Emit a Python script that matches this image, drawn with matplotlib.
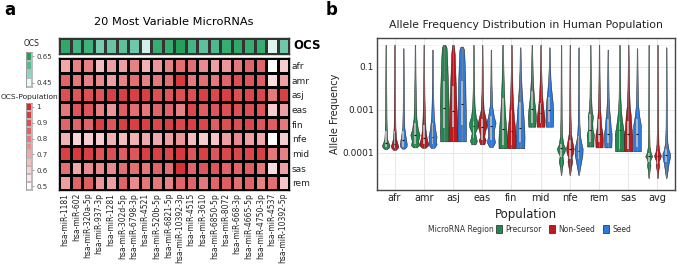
import matplotlib
matplotlib.use("Agg")
import matplotlib.pyplot as plt
from matplotlib.colors import LinearSegmentedColormap
from matplotlib.patches import Patch
import numpy as np

W, H = 677, 266

# ---------------- panel a data ----------------
MIRNAS = ["hsa-miR-1181", "hsa-miR-602", "hsa-miR-320a-5p", "hsa-miR-937-3p",
          "hsa-miR-1281", "hsa-miR-302d-5p", "hsa-miR-6798-3p", "hsa-miR-4521",
          "hsa-miR-520b-5p", "hsa-miR-6821-5p", "hsa-miR-10392-3p", "hsa-miR-4515",
          "hsa-miR-3610", "hsa-miR-6850-5p", "hsa-miR-8072", "hsa-miR-668-3p",
          "hsa-miR-4665-5p", "hsa-miR-4750-3p", "hsa-miR-4537", "hsa-miR-10392-5p"]
POP_ROWS = ["afr", "amr", "asj", "eas", "fin", "nfe", "mid", "sas", "rem"]

OCS = [0.63, 0.60, 0.61, 0.54, 0.56, 0.57, 0.55, 0.47, 0.62, 0.62,
       0.65, 0.60, 0.57, 0.59, 0.62, 0.63, 0.62, 0.62, 0.46, 0.55]

OCS_POP = [
    [0.70, 0.78, 0.78, 0.66, 0.72, 0.72, 0.78, 0.68, 0.74, 0.78, 0.82, 0.82, 0.76, 0.72, 0.74, 0.80, 0.84, 0.84, 0.50, 0.62],
    [0.84, 0.80, 0.78, 0.76, 0.72, 0.78, 0.82, 0.78, 0.80, 0.82, 0.96, 0.80, 0.82, 0.80, 0.84, 0.90, 0.88, 0.86, 0.58, 0.72],
    [0.90, 0.88, 0.90, 0.88, 0.94, 0.94, 0.94, 0.94, 0.90, 0.88, 0.90, 0.90, 0.94, 0.92, 0.94, 0.90, 0.92, 0.92, 0.80, 0.94],
    [0.80, 0.88, 0.88, 0.78, 0.74, 0.86, 0.82, 0.80, 0.84, 0.84, 0.78, 0.92, 0.86, 0.88, 0.90, 0.90, 0.90, 0.88, 0.62, 0.72],
    [0.84, 0.84, 0.84, 0.94, 0.88, 0.94, 0.94, 0.94, 0.92, 0.94, 0.92, 0.94, 0.92, 0.86, 0.90, 0.90, 0.92, 0.88, 0.86, 0.80],
    [0.68, 0.60, 0.62, 0.62, 0.68, 0.66, 0.68, 0.70, 0.70, 0.72, 0.74, 0.66, 0.62, 0.64, 0.72, 0.76, 0.72, 0.70, 0.50, 0.62],
    [0.94, 0.96, 0.94, 0.88, 0.90, 0.86, 0.88, 0.94, 0.94, 0.92, 0.96, 0.88, 0.94, 0.88, 0.92, 0.92, 0.92, 0.94, 0.80, 0.78],
    [0.82, 0.70, 0.76, 0.76, 0.76, 0.82, 0.82, 0.80, 0.84, 0.82, 0.98, 0.84, 0.88, 0.88, 0.84, 0.84, 0.86, 0.80, 0.58, 0.72],
    [0.72, 0.84, 0.86, 0.74, 0.72, 0.84, 0.76, 0.80, 0.80, 0.78, 0.84, 0.84, 0.80, 0.84, 0.86, 0.82, 0.84, 0.78, 0.82, 0.64],
]

OCS_LEGEND = [0.65, 0.5833, 0.5167, 0.45]
POP_LEGEND = [1.0, 0.95, 0.9, 0.85, 0.8, 0.75, 0.7, 0.65, 0.6, 0.55, 0.5]
POP_LEGEND_LABELS = ["1", "", "0.9", "", "0.8", "", "0.7", "", "0.6", "", "0.5"]

# ---------------- panel b data ----------------
# y axis is drawn in tick-index units: 0 -> 0.0001, 1 -> 0.001, 2 -> 0.1
POPS = ["afr", "amr", "asj", "eas", "fin", "mid", "nfe", "rem", "sas", "avg"]
REGIONS = ["Precursor", "Non-Seed", "Seed"]
REGION_COLORS = ["#23874f", "#bd1a1f", "#2f7bdc"]
YTICK_POS = [0, 1, 2]
YTICK_LABELS = ["0.0001", "0.001", "0.1"]

# violin outlines: (y, half width) knots, per population P / N / S
PROFILES = {
    "afr": [
        [(0.09, 0.04), (0.13, 0.11), (0.18, 0.13), (0.24, 0.09), (0.32, 0.05), (0.5, 0.035), (0.8, 0.025), (1.5, 0.018), (2.51, 0.01)],
        [(0.07, 0.04), (0.12, 0.11), (0.16, 0.13), (0.24, 0.09), (0.35, 0.05), (0.6, 0.03), (1.0, 0.022), (1.6, 0.016), (2.51, 0.01)],
        [(0.10, 0.04), (0.15, 0.11), (0.20, 0.12), (0.30, 0.10), (0.42, 0.07), (0.6, 0.035), (1.0, 0.022), (1.6, 0.016), (2.43, 0.01)],
    ],
    "amr": [
        [(0.13, 0.06), (0.18, 0.14), (0.28, 0.11), (0.42, 0.16), (0.55, 0.10), (0.8, 0.05), (1.2, 0.03), (1.8, 0.018), (2.51, 0.01)],
        [(0.12, 0.06), (0.17, 0.14), (0.22, 0.15), (0.35, 0.10), (0.55, 0.06), (0.85, 0.04), (1.3, 0.025), (1.8, 0.016), (2.51, 0.01)],
        [(0.12, 0.06), (0.20, 0.14), (0.28, 0.12), (0.38, 0.14), (0.55, 0.09), (0.85, 0.045), (1.3, 0.025), (1.8, 0.016), (2.40, 0.01)],
    ],
    "asj": [
        [(0.27, 0.14), (0.5, 0.15), (0.8, 0.14), (1.1, 0.15), (1.4, 0.14), (1.8, 0.12), (2.2, 0.10), (2.45, 0.08), (2.51, 0.04)],
        [(0.27, 0.15), (0.5, 0.15), (0.8, 0.14), (1.1, 0.12), (1.5, 0.10), (1.9, 0.08), (2.3, 0.06), (2.51, 0.03)],
        [(0.27, 0.14), (0.55, 0.15), (0.9, 0.14), (1.3, 0.13), (1.7, 0.12), (2.1, 0.10), (2.4, 0.08), (2.47, 0.04)],
    ],
    "eas": [
        [(0.20, 0.07), (0.28, 0.12), (0.35, 0.09), (0.47, 0.06), (0.6, 0.14), (0.7, 0.15), (0.85, 0.08), (1.1, 0.04), (1.6, 0.02), (2.51, 0.01)],
        [(0.20, 0.07), (0.30, 0.12), (0.38, 0.07), (0.5, 0.10), (0.65, 0.16), (0.8, 0.12), (1.0, 0.05), (1.4, 0.025), (2.51, 0.01)],
        [(0.14, 0.06), (0.25, 0.14), (0.40, 0.10), (0.55, 0.11), (0.7, 0.16), (0.85, 0.10), (1.1, 0.04), (1.6, 0.02), (2.40, 0.01)],
    ],
    "fin": [
        [(0.11, 0.14), (0.3, 0.145), (0.5, 0.13), (0.77, 0.10), (1.0, 0.075), (1.3, 0.055), (1.7, 0.035), (2.1, 0.022), (2.51, 0.012)],
        [(0.11, 0.14), (0.3, 0.15), (0.55, 0.13), (0.8, 0.09), (1.0, 0.07), (1.4, 0.04), (1.9, 0.022), (2.51, 0.012)],
        [(0.11, 0.14), (0.35, 0.15), (0.6, 0.14), (0.9, 0.11), (1.2, 0.08), (1.5, 0.05), (1.9, 0.025), (2.45, 0.012)],
    ],
    "mid": [
        [(0.61, 0.12), (0.75, 0.13), (0.84, 0.14), (1.0, 0.12), (1.2, 0.085), (1.47, 0.055), (1.8, 0.03), (2.2, 0.018), (2.51, 0.01)],
        [(0.61, 0.13), (0.75, 0.14), (0.9, 0.12), (1.05, 0.09), (1.3, 0.055), (1.6, 0.035), (2.0, 0.02), (2.51, 0.01)],
        [(0.61, 0.12), (0.8, 0.13), (1.0, 0.13), (1.2, 0.11), (1.45, 0.07), (1.7, 0.04), (2.0, 0.022), (2.45, 0.01)],
    ],
    "nfe": [
        [(-0.51, 0.01), (-0.35, 0.03), (-0.2, 0.08), (-0.12, 0.06), (-0.06, 0.05), (0.03, 0.12), (0.11, 0.14), (0.2, 0.08), (0.4, 0.035), (0.8, 0.022), (1.5, 0.016), (2.51, 0.01)],
        [(-0.51, 0.01), (-0.35, 0.04), (-0.2, 0.08), (-0.1, 0.06), (0.0, 0.11), (0.11, 0.13), (0.25, 0.09), (0.45, 0.04), (0.9, 0.022), (1.6, 0.016), (2.51, 0.01)],
        [(-0.51, 0.01), (-0.35, 0.05), (-0.2, 0.09), (-0.05, 0.13), (0.1, 0.14), (0.25, 0.09), (0.4, 0.05), (0.7, 0.028), (1.3, 0.018), (2.45, 0.01)],
    ],
    "rem": [
        [(0.15, 0.11), (0.3, 0.11), (0.42, 0.125), (0.55, 0.08), (0.7, 0.07), (0.84, 0.09), (1.0, 0.05), (1.3, 0.028), (1.8, 0.018), (2.51, 0.01)],
        [(0.13, 0.12), (0.3, 0.13), (0.45, 0.12), (0.6, 0.08), (0.8, 0.06), (1.0, 0.04), (1.4, 0.025), (1.9, 0.016), (2.51, 0.01)],
        [(0.13, 0.12), (0.3, 0.13), (0.45, 0.13), (0.6, 0.10), (0.8, 0.08), (1.0, 0.05), (1.3, 0.028), (1.8, 0.018), (2.40, 0.01)],
    ],
    "sas": [
        [(0.04, 0.15), (0.25, 0.16), (0.45, 0.16), (0.6, 0.12), (0.8, 0.08), (1.0, 0.05), (1.3, 0.03), (1.8, 0.02), (2.51, 0.01)],
        [(0.04, 0.14), (0.2, 0.14), (0.4, 0.14), (0.6, 0.11), (0.85, 0.09), (1.1, 0.05), (1.5, 0.028), (2.0, 0.018), (2.51, 0.01)],
        [(0.04, 0.13), (0.2, 0.13), (0.45, 0.13), (0.65, 0.13), (0.85, 0.08), (1.1, 0.04), (1.5, 0.025), (2.0, 0.016), (2.43, 0.01)],
    ],
    "avg": [
        [(-0.58, 0.01), (-0.4, 0.03), (-0.29, 0.06), (-0.2, 0.04), (-0.12, 0.08), (-0.08, 0.12), (0.0, 0.07), (0.15, 0.03), (0.5, 0.02), (1.2, 0.015), (2.51, 0.01)],
        [(-0.58, 0.01), (-0.4, 0.03), (-0.29, 0.06), (-0.2, 0.04), (-0.12, 0.09), (-0.06, 0.12), (0.02, 0.07), (0.2, 0.035), (0.6, 0.02), (1.3, 0.015), (2.51, 0.01)],
        [(-0.58, 0.01), (-0.4, 0.05), (-0.25, 0.08), (-0.1, 0.13), (-0.02, 0.13), (0.08, 0.08), (0.25, 0.04), (0.6, 0.022), (1.3, 0.016), (2.45, 0.01)],
    ],
}

# inner boxplot (q1, median, q3) per population P / N / S
BOXES = {
    "afr": [(0.15, 0.22, 0.50), (0.12, 0.20, 0.50), (0.15, 0.30, 0.50)],
    "amr": [(0.20, 0.42, 0.70), (0.20, 0.35, 0.65), (0.20, 0.38, 0.70)],
    "asj": [(0.57, 1.04, 1.68), (0.60, 0.98, 1.55), (0.64, 1.13, 1.68)],
    "eas": [(0.35, 0.62, 0.75), (0.30, 0.60, 0.80), (0.30, 0.63, 0.85)],
    "fin": [(0.18, 0.56, 1.27), (0.18, 0.51, 0.99), (0.25, 0.57, 1.18)],
    "mid": [(0.69, 1.02, 1.43), (0.69, 0.92, 1.15), (0.72, 1.00, 1.30)],
    "nfe": [(-0.10, 0.11, 0.20), (-0.15, 0.10, 0.30), (-0.15, 0.05, 0.40)],
    "rem": [(0.25, 0.53, 0.90), (0.25, 0.45, 0.80), (0.22, 0.43, 0.80)],
    "sas": [(0.10, 0.53, 0.75), (0.10, 0.45, 0.75), (0.15, 0.45, 0.80)],
    "avg": [(-0.20, -0.08, 0.00), (-0.25, -0.06, 0.05), (-0.20, -0.05, 0.10)],
}

plt.rcParams["font.family"] = "DejaVu Sans"

fig = plt.figure(figsize=(W / 100, H / 100), dpi=100)


def fax(x0, y0, x1, y1):
    """axes from pixel box (top-left origin)"""
    return fig.add_axes([x0 / W, 1 - y1 / H, (x1 - x0) / W, (y1 - y0) / H])


green_cmap = LinearSegmentedColormap.from_list("g", ["#eef9f8", "#8dd5c2", "#52bc92", "#23a059"])
red_cmap = LinearSegmentedColormap.from_list("r", ["#ffffff", "#f2b9bb", "#e2686b", "#d42a2e"])

# ---------------- panel a ----------------
fig.text(4 / W, 1 - 10 / H, "a", fontsize=12, weight="bold", va="center")
fig.text(174 / W, 1 - 22 / H, "20 Most Variable MicroRNAs", fontsize=8.2, ha="center", va="center")

ax_ocs = fax(59, 37.5, 289, 54)
ax_ocs.pcolormesh(np.arange(21), np.arange(2), np.array([OCS]), cmap=green_cmap,
                  vmin=0.45, vmax=0.65, edgecolors="#333333", linewidth=0.9)
ax_ocs.set_xlim(0, 20)
ax_ocs.set_ylim(0, 1)
ax_ocs.set_xticks([])
ax_ocs.set_yticks([])
for s in ax_ocs.spines.values():
    s.set_linewidth(1.0)
    s.set_color("#333333")
fig.text(293 / W, 1 - 46 / H, "OCS", fontsize=8.5, weight="bold", va="center")

ax_hm = fax(59, 58, 289, 190)
ax_hm.pcolormesh(np.arange(21), np.arange(10), np.array(OCS_POP), cmap=red_cmap,
                 vmin=0.5, vmax=1.0, edgecolors="black", linewidth=0.9)
ax_hm.set_xlim(0, 20)
ax_hm.set_ylim(9, 0)
ax_hm.set_xticks(np.arange(20) + 0.5)
ax_hm.set_xticklabels(MIRNAS, rotation=90, fontsize=5.5, color="#222222")
ax_hm.yaxis.tick_right()
ax_hm.set_yticks(np.arange(9) + 0.5)
ax_hm.set_yticklabels(POP_ROWS, fontsize=6.5, color="#222222")
ax_hm.tick_params(length=0, pad=2)
for s in ax_hm.spines.values():
    s.set_linewidth(1.0)

# legends of panel a
fig.text(32 / W, 1 - 43 / H, "OCS", fontsize=5.5, ha="center", va="center", color="#222222")
ax_l1 = fax(26, 52, 32, 87)
ax_l1.pcolormesh(np.array([[v] for v in OCS_LEGEND]), cmap=green_cmap, vmin=0.45, vmax=0.65,
                 edgecolors="#bbbbbb", linewidth=0.3)
ax_l1.set_ylim(len(OCS_LEGEND), 0)
ax_l1.set_xticks([])
ax_l1.yaxis.tick_right()
ax_l1.set_yticks([0.5, 3.5])
ax_l1.set_yticklabels(["0.65", "0.45"], fontsize=5, color="#333333")
ax_l1.tick_params(length=1.5, width=0.4, pad=1.5, colors="#666666", labelcolor="#333333")
for s in ax_l1.spines.values():
    s.set_linewidth(0.4)
    s.set_color("#888888")

fig.text(1 / W, 1 - 97 / H, "OCS-Population", fontsize=5.4, ha="left", va="center", color="#222222")
ax_l2 = fax(26, 103, 32, 190)
ax_l2.pcolormesh(np.array([[v] for v in POP_LEGEND]), cmap=red_cmap, vmin=0.5, vmax=1.0,
                 edgecolors="#bbbbbb", linewidth=0.3)
ax_l2.set_ylim(len(POP_LEGEND), 0)
ax_l2.set_xticks([])
ax_l2.yaxis.tick_right()
ax_l2.set_yticks([i + 0.5 for i, l in enumerate(POP_LEGEND_LABELS) if l])
ax_l2.set_yticklabels([l for l in POP_LEGEND_LABELS if l], fontsize=5, color="#333333")
ax_l2.tick_params(length=1.5, width=0.4, pad=1.5, colors="#666666", labelcolor="#333333")
for s in ax_l2.spines.values():
    s.set_linewidth(0.4)
    s.set_color("#888888")

# ---------------- panel b ----------------
fig.text(326 / W, 1 - 10 / H, "b", fontsize=12, weight="bold", va="center")

ax = fax(377, 38, 675, 190)
ax.set_facecolor("white")
ax.set_xlim(0.4, 10.6)
ax.set_ylim(-0.86, 2.67)
ax.set_yticks(YTICK_POS)
ax.set_yticklabels(YTICK_LABELS, fontsize=6.5, color="#222222")
ax.set_yticks([-0.5, 0.5, 1.5, 2.5], minor=True)
ax.set_xticks(np.arange(1, 11))
ax.set_xticklabels(POPS, fontsize=7, color="#222222")
ax.tick_params(which="both", length=0, pad=2)
ax.grid(True, which="major", color="#e3e3e3", linewidth=0.6)
ax.grid(True, which="minor", axis="y", color="#efefef", linewidth=0.4)
ax.set_axisbelow(True)
for s in ax.spines.values():
    s.set_color("#444444")
    s.set_linewidth(1.0)

offsets = [-0.3, 0.0, 0.3]
for gi, pop in enumerate(POPS):
    for ri in range(3):
        knots = PROFILES[pop][ri]
        ys = [k[0] for k in knots]
        hw = [k[1] for k in knots]
        pos = gi + 1 + offsets[ri]
        st = {"coords": np.array(ys), "vals": np.array(hw), "mean": np.mean(ys),
              "median": BOXES[pop][ri][1], "min": ys[0], "max": ys[-1]}
        parts = ax.violin([st], positions=[pos], widths=[2 * max(hw)],
                          showextrema=False, showmeans=False, showmedians=False)
        for b in parts["bodies"]:
            b.set_facecolor(REGION_COLORS[ri])
            b.set_edgecolor("#1a1a1a")
            b.set_linewidth(0.35)
            b.set_alpha(1)
            b.set_zorder(2)
        q1, med, q3 = BOXES[pop][ri]
        ax.bxp([{"q1": q1, "med": med, "q3": q3, "whislo": ys[0], "whishi": ys[-1]}],
               positions=[pos], widths=0.06, showfliers=False, showcaps=False,
               patch_artist=True,
               boxprops=dict(facecolor="#b5b5b5", edgecolor="none"),
               medianprops=dict(color="#111111", linewidth=0.8),
               whiskerprops=dict(color="#888888", linewidth=0.4),
               manage_ticks=False, zorder=3)

ax.set_title("Allele Frequency Distribution in Human Population", fontsize=7.8, pad=7, color="#222222")
ax.set_xlabel("Population", fontsize=8.5, labelpad=4, color="#222222")
fig.text(335 / W, 1 - 114 / H, "Allele Frequency", fontsize=7, rotation=90,
         ha="center", va="center", color="#222222")

fig.text(428 / W, 1 - 229 / H, "MicroRNA Region", fontsize=5.5, va="center", color="#333333")
handles = [Patch(facecolor=c, edgecolor="#222222", linewidth=0.5) for c in REGION_COLORS]
fig.legend(handles, REGIONS, loc="center left", bbox_to_anchor=(496 / W, 1 - 229 / H),
           ncol=3, frameon=False, fontsize=5.5, handlelength=0.8, handleheight=1.2,
           handletextpad=0.4, columnspacing=1.0, borderaxespad=0, borderpad=0,
           labelcolor="#333333")

fig.savefig("out.png", dpi=100)
